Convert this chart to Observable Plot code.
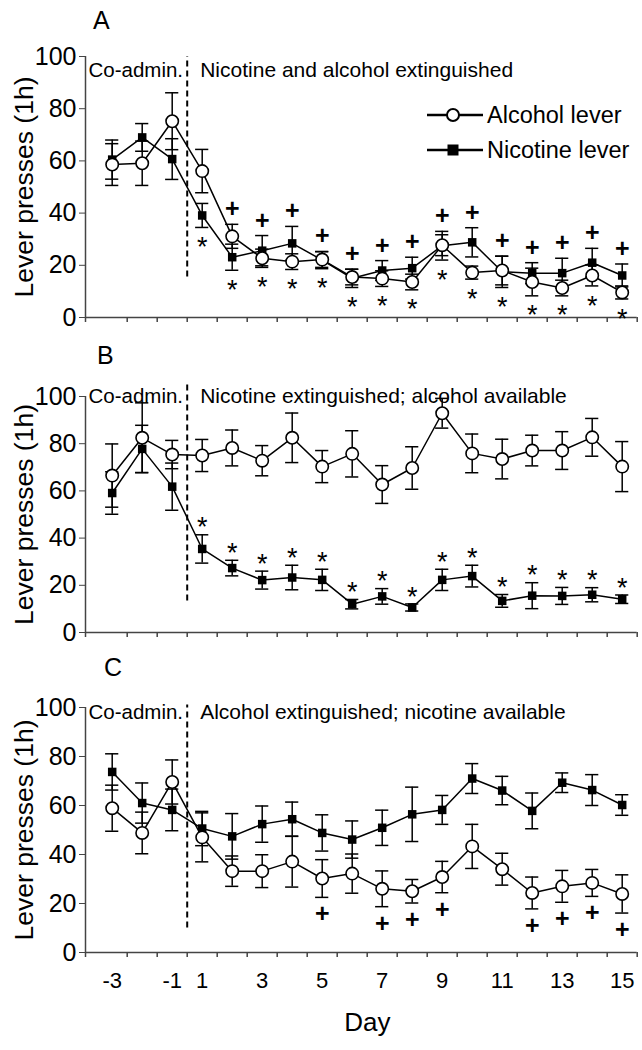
<!DOCTYPE html>
<html>
<head>
<meta charset="utf-8">
<script src="https://cdn.jsdelivr.net/npm/d3@7"></script>
<script src="https://cdn.jsdelivr.net/npm/@observablehq/plot@0.6"></script>
<style>
  body { margin: 0; background: #fff; }
  #wrap { position: relative; width: 642px; height: 1050px; background: #fff; overflow: hidden;
          font-family: "Liberation Sans", Arial, sans-serif; }
  .letter { position: absolute; font-size: 25px; line-height: 1; color: #000; }
</style>
</head>
<body>
<div id="wrap"></div>
<script>
// ---------- data ----------
const days = ["-3","-2","-1","1","2","3","4","5","6","7","8","9","10","11","12","13","14","15"];
const dayTickLabels = ["-3","-1","1","3","5","7","9","11","13","15"];
const yTicks = [0, 20, 40, 60, 80, 100];

// Panel A: nicotine and alcohol extinguished
const alcoholA    = [58.6, 59.1, 75.2, 56.1, 31.1, 22.7, 21.4, 22.2, 15.5, 14.9, 13.6, 27.7, 17.2, 18.0, 13.6, 11.3, 16.1, 9.6];
const alcoholAErr = [8.0, 8.5, 10.9, 8.3, 4.6, 3.5, 3.0, 3.0, 3.0, 3.0, 3.0, 4.0, 2.5, 5.5, 5.3, 3.0, 4.0, 2.5];
const nicotineA    = [60.5, 69.0, 60.7, 39.1, 23.1, 25.6, 28.4, 22.0, 15.0, 18.0, 18.9, 27.5, 28.8, 17.5, 17.0, 17.0, 21.0, 16.1];
const nicotineAErr = [7.5, 5.3, 7.8, 4.6, 5.0, 5.8, 6.5, 3.3, 3.5, 3.8, 4.2, 5.5, 5.6, 6.0, 4.0, 5.7, 5.5, 4.4];
const plusDaysA = ["2","3","4","5","6","7","8","9","10","11","12","13","14","15"];
const starDaysA = ["1","2","3","4","5","6","7","8","9","10","11","12","13","14","15"];

// Panel B: nicotine extinguished; alcohol available
const alcoholB    = [66.5, 82.5, 75.4, 75.0, 78.2, 72.8, 82.5, 70.3, 75.7, 62.7, 69.7, 92.9, 75.9, 73.5, 77.1, 77.1, 82.7, 70.3];
const alcoholBErr = [13.4, 14.8, 6.0, 6.8, 7.6, 6.4, 10.5, 6.8, 9.8, 8.0, 9.0, 6.3, 8.2, 8.4, 6.5, 8.0, 8.0, 10.6];
const nicotineB    = [59.1, 77.8, 61.8, 35.4, 27.3, 22.2, 23.3, 22.3, 12.0, 15.3, 10.6, 22.3, 23.9, 13.4, 15.6, 15.5, 16.0, 14.1];
const nicotineBErr = [9.0, 10.0, 10.0, 6.0, 3.3, 3.8, 5.2, 4.5, 2.0, 3.3, 1.5, 4.5, 4.6, 2.7, 5.5, 3.6, 3.0, 1.8];
const starDaysB = ["1","2","3","4","5","6","7","8","9","10","11","12","13","14","15"];

// Panel C: alcohol extinguished; nicotine available
const alcoholC    = [58.9, 48.8, 69.6, 47.0, 33.2, 33.2, 37.1, 30.2, 32.2, 26.0, 25.0, 30.8, 43.3, 34.0, 24.3, 27.0, 28.4, 23.9];
const alcoholCErr = [9.4, 8.5, 9.0, 10.0, 6.2, 6.7, 10.4, 7.7, 8.0, 7.3, 4.8, 6.4, 9.0, 6.5, 6.5, 6.5, 5.5, 7.8];
const nicotineC    = [73.7, 61.0, 58.2, 50.6, 47.4, 52.4, 54.4, 48.8, 46.1, 50.9, 56.4, 58.2, 71.0, 66.1, 57.8, 69.3, 66.3, 60.2];
const nicotineCErr = [7.4, 8.2, 8.5, 7.0, 9.3, 7.4, 7.0, 7.4, 7.6, 7.2, 11.1, 5.9, 6.1, 5.8, 7.3, 4.0, 6.3, 4.2];
const plusDaysC = ["5","7","8","9","12","13","14","15"];

// ---------- drawing ----------
const FONT = '"Liberation Sans", Arial, sans-serif';
const xDomain = [-0.89, days.length - 0.5];
const switchX = days.indexOf("1") - 0.5;          // boundary between Co-admin. and extinction
const boundaries = [xDomain[0], ...days.map((d, i) => i + 0.5)];
const capHalf = 0.22;

function rowsOf(alc, ae, nic, ne) {
  return days.map((day, i) => ({i, day, alc: alc[i], ae: ae[i], nic: nic[i], ne: ne[i]}));
}

function panel(cfg) {
  const rows = rowsOf(cfg.alc, cfg.alcErr, cfg.nic, cfg.nicErr);
  const marks = [
    Plot.ruleY([0], {stroke: "#444", strokeWidth: 1.5}),
    Plot.ruleX([xDomain[0]], {y1: 0, y2: 100, stroke: "#444", strokeWidth: 1.5}),
    Plot.axisX({ticks: boundaries, tickFormat: () => "", tickSize: 5, stroke: "#444", strokeWidth: 1.5, label: null}),
    Plot.axisY({ticks: yTicks, tickSize: 6, tickPadding: 3, fontSize: 25, label: null, stroke: "#444", fill: "#000"}),
    Plot.text(["Lever presses (1h)"], {frameAnchor: "left", textAnchor: "middle", dx: -61, rotate: -90, fontSize: 26.5, fill: "#000"}),
    Plot.ruleX([switchX], {y1: cfg.dashBottom, y2: cfg.dashTop, stroke: "#000", strokeWidth: 2, strokeDasharray: "6,4"}),
    Plot.text(["Co-admin."], {frameAnchor: "top-left", textAnchor: "start", dx: 3, dy: cfg.textDy, fontSize: 20.5, fill: "#000"}),
    Plot.text([cfg.title], {x: () => switchX, frameAnchor: "top", textAnchor: "start", dx: 13, dy: cfg.textDy, fontSize: 21, fill: "#000"}),
    // lines
    Plot.line(rows, {x: "i", y: "nic", stroke: "#000", strokeWidth: 1.5}),
    Plot.line(rows, {x: "i", y: "alc", stroke: "#000", strokeWidth: 1.5}),
    // error bars
    Plot.ruleX(rows, {x: "i", y1: d => d.nic - d.ne, y2: d => d.nic + d.ne, stroke: "#000", strokeWidth: 1.5}),
    Plot.ruleY(rows, {y: d => d.nic + d.ne, x1: d => d.i - capHalf, x2: d => d.i + capHalf, stroke: "#000", strokeWidth: 1.5}),
    Plot.ruleY(rows, {y: d => d.nic - d.ne, x1: d => d.i - capHalf, x2: d => d.i + capHalf, stroke: "#000", strokeWidth: 1.5}),
    Plot.ruleX(rows, {x: "i", y1: d => d.alc - d.ae, y2: d => d.alc + d.ae, stroke: "#000", strokeWidth: 1.5}),
    Plot.ruleY(rows, {y: d => d.alc + d.ae, x1: d => d.i - capHalf, x2: d => d.i + capHalf, stroke: "#000", strokeWidth: 1.5}),
    Plot.ruleY(rows, {y: d => d.alc - d.ae, x1: d => d.i - capHalf, x2: d => d.i + capHalf, stroke: "#000", strokeWidth: 1.5}),
    // markers
    Plot.dot(rows, {x: "i", y: "nic", symbol: "square", r: 4.8, fill: "#000", stroke: "none"}),
    Plot.dot(rows, {x: "i", y: "alc", symbol: "circle", r: 6.2, fill: "#fff", stroke: "#000", strokeWidth: 1.6})
  ];
  if (cfg.extra) marks.push(...cfg.extra(rows));
  if (cfg.xLabels) {
    marks.push(
      Plot.axisX({ticks: dayTickLabels.map(d => days.indexOf(d)), tickFormat: i => days[i], tickSize: 0, tickPadding: 20, fontSize: 22, fill: "#000", label: null}),
      Plot.text(["Day"], {frameAnchor: "bottom", dx: 6, dy: 78, fontSize: 26, fill: "#000"})
    );
  }
  const svg = Plot.plot({
    width: 642,
    height: cfg.height,
    marginLeft: 85,
    marginRight: 642 - 636.7,
    marginTop: cfg.mt,
    marginBottom: cfg.mb,
    style: {fontFamily: FONT, background: "transparent", overflow: "visible"},
    x: {type: "linear", domain: xDomain, axis: null},
    y: {domain: [0, 100], axis: null},
    marks
  });
  svg.style.position = "absolute";
  svg.style.top = cfg.top + "px";
  svg.style.left = "0px";
  return svg;
}

const wrap = document.getElementById("wrap");

const byDay = (rows, list) => rows.filter(r => list.includes(r.day));

wrap.appendChild(panel({
  alc: alcoholA, alcErr: alcoholAErr, nic: nicotineA, nicErr: nicotineAErr,
  top: 0, height: 340, mt: 56, mb: 23,
  title: "Nicotine and alcohol extinguished", textDy: 6,
  dashBottom: 15.5, dashTop: 100,
  extra: rows => [
    Plot.text(byDay(rows, plusDaysA), {x: "i", y: d => Math.max(d.alc + d.ae, d.nic + d.ne), text: () => "+", dy: -15, fontSize: 25, fontWeight: "bold", fill: "#000"}),
    Plot.text(byDay(rows, starDaysA), {x: "i", y: d => Math.min(d.alc - d.ae, d.nic - d.ne), text: () => "*", dy: 20, fontSize: 27, fill: "#000"})
  ]
}));

wrap.appendChild(panel({
  alc: alcoholB, alcErr: alcoholBErr, nic: nicotineB, nicErr: nicotineBErr,
  top: 340, height: 312, mt: 56, mb: 20,
  title: "Nicotine extinguished; alcohol available", textDy: -8,
  dashBottom: 13.4, dashTop: 105,
  extra: rows => [
    Plot.text(byDay(rows, starDaysB), {x: "i", y: d => d.nic + d.ne, text: () => "*", dy: -7, fontSize: 27, fill: "#000"})
  ]
}));

wrap.appendChild(panel({
  alc: alcoholC, alcErr: alcoholCErr, nic: nicotineC, nicErr: nicotineCErr,
  top: 652, height: 398, mt: 55, mb: 98,
  title: "Alcohol extinguished; nicotine available", textDy: -3,
  dashBottom: 10, dashTop: 101,
  xLabels: true,
  extra: rows => [
    Plot.text(byDay(rows, plusDaysC), {x: "i", y: d => d.alc - d.ae, text: () => "+", dy: 17, fontSize: 25, fontWeight: "bold", fill: "#000"})
  ]
}));

// panel letters
[["A", 93, 8], ["B", 97, 343], ["C", 104, 655]].forEach(([t, x, y]) => {
  const el = document.createElement("div");
  el.className = "letter";
  el.textContent = t;
  el.style.left = x + "px";
  el.style.top = y + "px";
  wrap.appendChild(el);
});

// legend (panel A)
const leg = d3.create("svg").attr("width", 642).attr("height", 200)
  .style("position", "absolute").style("top", "0px").style("left", "0px")
  .style("font-family", FONT);
const legItems = [{label: "Alcohol lever", sym: "circle", y: 115}, {label: "Nicotine lever", sym: "square", y: 150}];
legItems.forEach(it => {
  leg.append("line").attr("x1", 427).attr("x2", 483).attr("y1", it.y).attr("y2", it.y)
    .attr("stroke", "#000").attr("stroke-width", 2.5);
  if (it.sym === "circle") {
    leg.append("circle").attr("cx", 453).attr("cy", it.y).attr("r", 6)
      .attr("fill", "#fff").attr("stroke", "#000").attr("stroke-width", 2);
  } else {
    leg.append("rect").attr("x", 447.5).attr("y", it.y - 5.5).attr("width", 11).attr("height", 11).attr("fill", "#000");
  }
  leg.append("text").attr("x", 487).attr("y", it.y).attr("dy", "0.35em")
    .attr("font-size", 23.5).attr("fill", "#000").text(it.label);
});
wrap.appendChild(leg.node());
</script>
</body>
</html>
